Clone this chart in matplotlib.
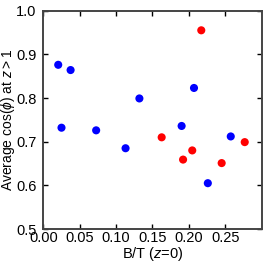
import matplotlib
matplotlib.use("Agg")
import matplotlib.pyplot as plt

plt.rcParams["font.family"] = ["Liberation Sans", "DejaVu Sans"]
plt.rcParams["mathtext.fontset"] = "custom"
plt.rcParams["mathtext.rm"] = "Liberation Sans"
plt.rcParams["mathtext.it"] = "Liberation Sans:italic"

# B/T at z=0 and average cos(phi) at z>1
bt_blue = [0.0205, 0.0375, 0.025, 0.0726, 0.113, 0.132, 0.207, 0.190, 0.2575, 0.226]
cos_blue = [0.876, 0.864, 0.732, 0.726, 0.685, 0.799, 0.823, 0.736, 0.712, 0.605]
bt_red = [0.217, 0.1626, 0.192, 0.2046, 0.245, 0.2767]
cos_red = [0.955, 0.710, 0.659, 0.680, 0.651, 0.699]

xticks = [0.00, 0.05, 0.10, 0.15, 0.20, 0.25]
yticks = [0.5, 0.6, 0.7, 0.8, 0.9, 1.0]

fig = plt.figure(figsize=(2.73, 2.73), dpi=100)
ax = fig.add_axes([0.1586, 0.161, 0.80, 0.800])

ax.scatter(bt_blue, cos_blue, s=34, color="blue", edgecolors="none", zorder=3)
ax.scatter(bt_red, cos_red, s=34, color="red", edgecolors="none", zorder=3)

ax.set_xlim(0, 0.3)
ax.set_ylim(0.5, 1.0)
ax.set_xticks(xticks)
ax.set_yticks(yticks)
ax.set_xticklabels(["%.2f" % t for t in xticks])
ax.set_yticklabels(["%.1f" % t for t in yticks])
ax.tick_params(direction="in", top=True, right=True, length=3.5, width=1, labelsize=10.5)
ax.tick_params(axis="x", pad=1.5)
ax.tick_params(axis="y", pad=5)

for sp in ax.spines.values():
    sp.set_color("#444444")
    sp.set_linewidth(1.4)

ax.set_xlabel(r"B/T ($z$=0)", fontsize=10.5, labelpad=0)
ax.set_ylabel(r"Average $\cos(\phi)$ at $z > 1$", fontsize=10)
ax.yaxis.set_label_coords(-0.122, 0.5)

fig.savefig("out.png", dpi=100)
